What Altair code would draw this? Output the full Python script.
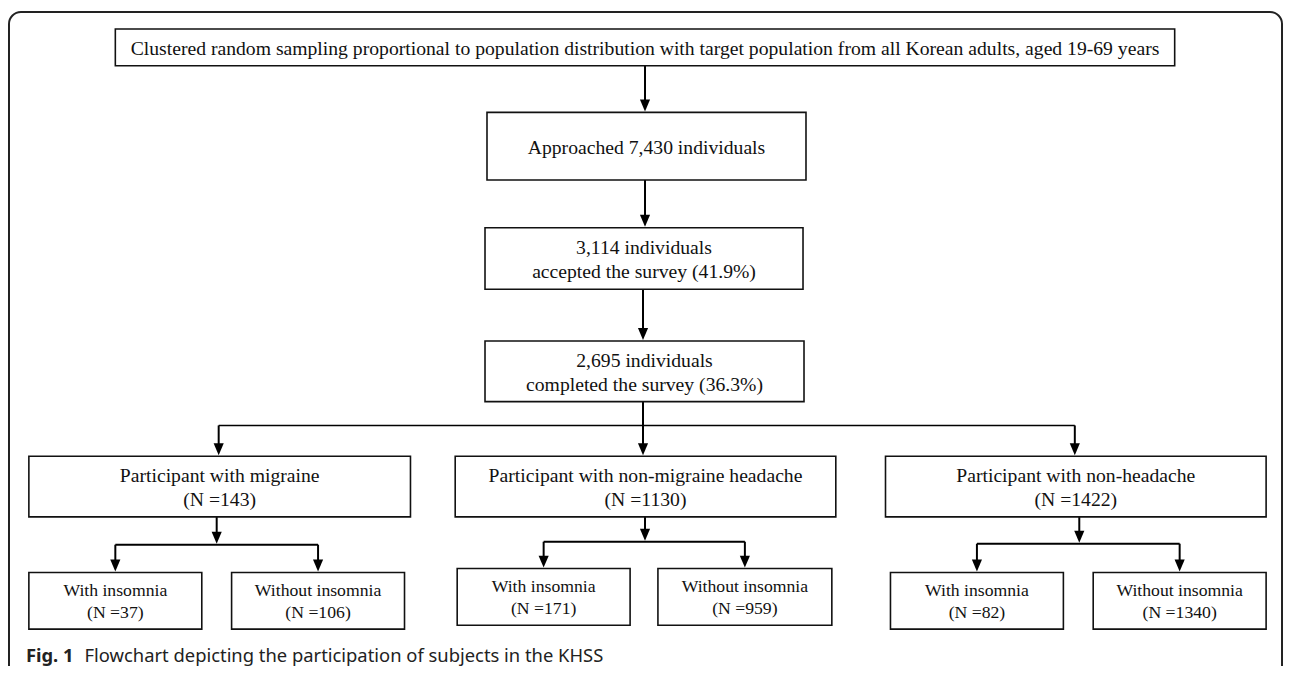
import altair as alt
import pandas as pd

# ---------------- data (labels and counts) ----------------
top_label = ("Clustered random sampling proportional to population distribution "
             "with target population from all Korean adults, aged 19-69 years")
approached_n = 7430
accepted_n = 3114
accepted_pct = 41.9
completed_n = 2695
completed_pct = 36.3
group_names = ["Participant with migraine",
               "Participant with non-migraine headache",
               "Participant with non-headache"]
group_n = [143, 1130, 1422]
sub_names = ["With insomnia", "Without insomnia"]
with_insomnia_n = [37, 171, 82]
without_insomnia_n = [106, 959, 1340]
caption_bold = "Fig. 1"
caption_text = "Flowchart depicting the participation of subjects in the KHSS"

# ---------------- layout (page pixels) ----------------
X0, X1, Y0, Y1 = 8, 1292, 8, 666
top_box = (116, 1182, 27, 64)
chain_boxes = [(490, 811, 111, 179), (488, 808, 227, 289), (488, 809, 341, 402)]
chain_arrow_x = [649, 649, 647]
group_boxes = [(29, 413), (458, 841), (891, 1274)]
group_y = (457, 518)
split_y = 426
sub_boxes = [[(29, 203), (233, 407)], [(460, 634), (662, 837)], [(896, 1070), (1100, 1274)]]
sub_y = [(574, 631), (570, 627), (574, 631)]
stem_x = [218, 649, 1086]
branch_y = [546, 543, 545]
BIG, BIG_LH = 19.8, 24.5
SMALL, SMALL_LH = 17.8, 22

# ---------------- build tables ----------------
boxes, texts, rules, tips = [], [], [], []

def add_box(x1, x2, y1, y2, lines, size, lh):
    boxes.append(dict(x=x1, x2=x2, y=y1, y2=y2))
    cy = (y1 + y2) / 2 + 1.5
    n = len(lines)
    for k, line in enumerate(lines):
        texts.append(dict(x=(x1 + x2) / 2, y=cy + (k - (n - 1) / 2) * lh, t=line, size=size))

def add_arrow(x, y1, y2, sw=2):
    rules.append(dict(x=x, x2=x, y=y1, y2=y2 - 4, sw=sw))
    tips.append(dict(x=x, y=y2 - 6))

add_box(*top_box, [top_label], BIG, BIG_LH)
chain_labels = [
    [f"Approached {approached_n:,} individuals"],
    [f"{accepted_n:,} individuals", f"accepted the survey ({accepted_pct}%)"],
    [f"{completed_n:,} individuals", f"completed the survey ({completed_pct}%)"],
]
prev_bottom = top_box[3]
for (bx1, bx2, by1, by2), lab, ax in zip(chain_boxes, chain_labels, chain_arrow_x):
    add_arrow(ax, prev_bottom, by1 - 1)
    add_box(bx1, bx2, by1, by2, lab, BIG, BIG_LH)
    prev_bottom = by2

# first split
gcx = [(a + b) / 2 for a, b in group_boxes]
last_ax = chain_arrow_x[-1]
rules.append(dict(x=gcx[0] - 1, x2=gcx[-1] - 1, y=split_y, y2=split_y, sw=1.6))
add_arrow(last_ax, prev_bottom, group_y[0] - 1)
for i, cx in enumerate(gcx):
    if i != 1:
        add_arrow(cx - 1, split_y, group_y[0] - 1)

for i, ((gx1, gx2), name, n) in enumerate(zip(group_boxes, group_names, group_n)):
    add_box(gx1, gx2, group_y[0], group_y[1], [name, f"(N ={n})"], BIG, BIG_LH)
    sy1, sy2 = sub_y[i]
    scx = [(a + b) / 2 for a, b in sub_boxes[i]]
    add_arrow(stem_x[i], group_y[1], branch_y[i] - 1)
    rules.append(dict(x=scx[0], x2=scx[1], y=branch_y[i], y2=branch_y[i], sw=2))
    for cx in scx:
        add_arrow(cx, branch_y[i], sy1 - 1)
    counts = [with_insomnia_n[i], without_insomnia_n[i]]
    for (sx1, sx2), sname, c in zip(sub_boxes[i], sub_names, counts):
        add_box(sx1, sx2, sy1, sy2, [sname, f"(N ={c})"], SMALL, SMALL_LH)

box_df = pd.DataFrame(boxes)
text_df = pd.DataFrame(texts)
rule_df = pd.DataFrame(rules)
tip_df = pd.DataFrame(tips)
frame_df = pd.DataFrame([dict(x=9, x2=1290, y=10, y2=720)])
cap_df = pd.DataFrame([dict(x=26, y=658, t=caption_bold, w="bold"),
                       dict(x=85, y=658, t=caption_text, w="normal")])

xs = alt.Scale(domain=[X0, X1], nice=False, zero=False)
ys = alt.Scale(domain=[Y0, Y1], nice=False, zero=False, reverse=True)
X = lambda f="x": alt.X(f"{f}:Q", scale=xs, axis=None)
Y = lambda f="y": alt.Y(f"{f}:Q", scale=ys, axis=None)

frame = alt.Chart(frame_df).mark_rect(
    fill="white", fillOpacity=0, stroke="#222222", strokeWidth=2, cornerRadius=12
).encode(x=X(), x2="x2:Q", y=Y(), y2="y2:Q")

box_layer = alt.Chart(box_df).mark_rect(
    fill="white", stroke="#111111", strokeWidth=1.6
).encode(x=X(), x2="x2:Q", y=Y(), y2="y2:Q")

rule_layer = alt.Chart(rule_df).mark_rule(color="#000000").encode(
    x=X(), x2="x2:Q", y=Y(), y2="y2:Q",
    strokeWidth=alt.StrokeWidth("sw:Q", scale=None, legend=None),
)

tip_layer = alt.Chart(tip_df).mark_point(
    shape="M-0.85,-1L0.85,-1L0,1Z", filled=True, fill="#000000", opacity=1,
    size=144, strokeWidth=0,
).encode(x=X(), y=Y())

text_layer = alt.Chart(text_df).mark_text(
    font="Liberation Serif", align="center", baseline="middle", color="#111111",
).encode(x=X(), y=Y(), text="t:N",
         size=alt.Size("size:Q", scale=None, legend=None))

cap_bold = alt.Chart(cap_df[cap_df.w == "bold"]).mark_text(
    font="Noto Sans", fontSize=18.5, fontWeight="bold", align="left",
    baseline="middle", color="#222222",
).encode(x=X(), y=Y(), text="t:N")

cap_norm = alt.Chart(cap_df[cap_df.w == "normal"]).mark_text(
    font="Noto Sans", fontSize=18.5, align="left", baseline="middle", color="#222222",
).encode(x=X(), y=Y(), text="t:N")

chart = alt.layer(
    frame, rule_layer, box_layer, tip_layer, text_layer, cap_bold, cap_norm
).properties(
    width=X1 - X0, height=Y1 - Y0, padding=0,
    autosize=alt.AutoSizeParams(type="none"),
).configure_view(stroke=None)

chart.save("out.html", embed_options={"renderer": "svg", "actions": False})
